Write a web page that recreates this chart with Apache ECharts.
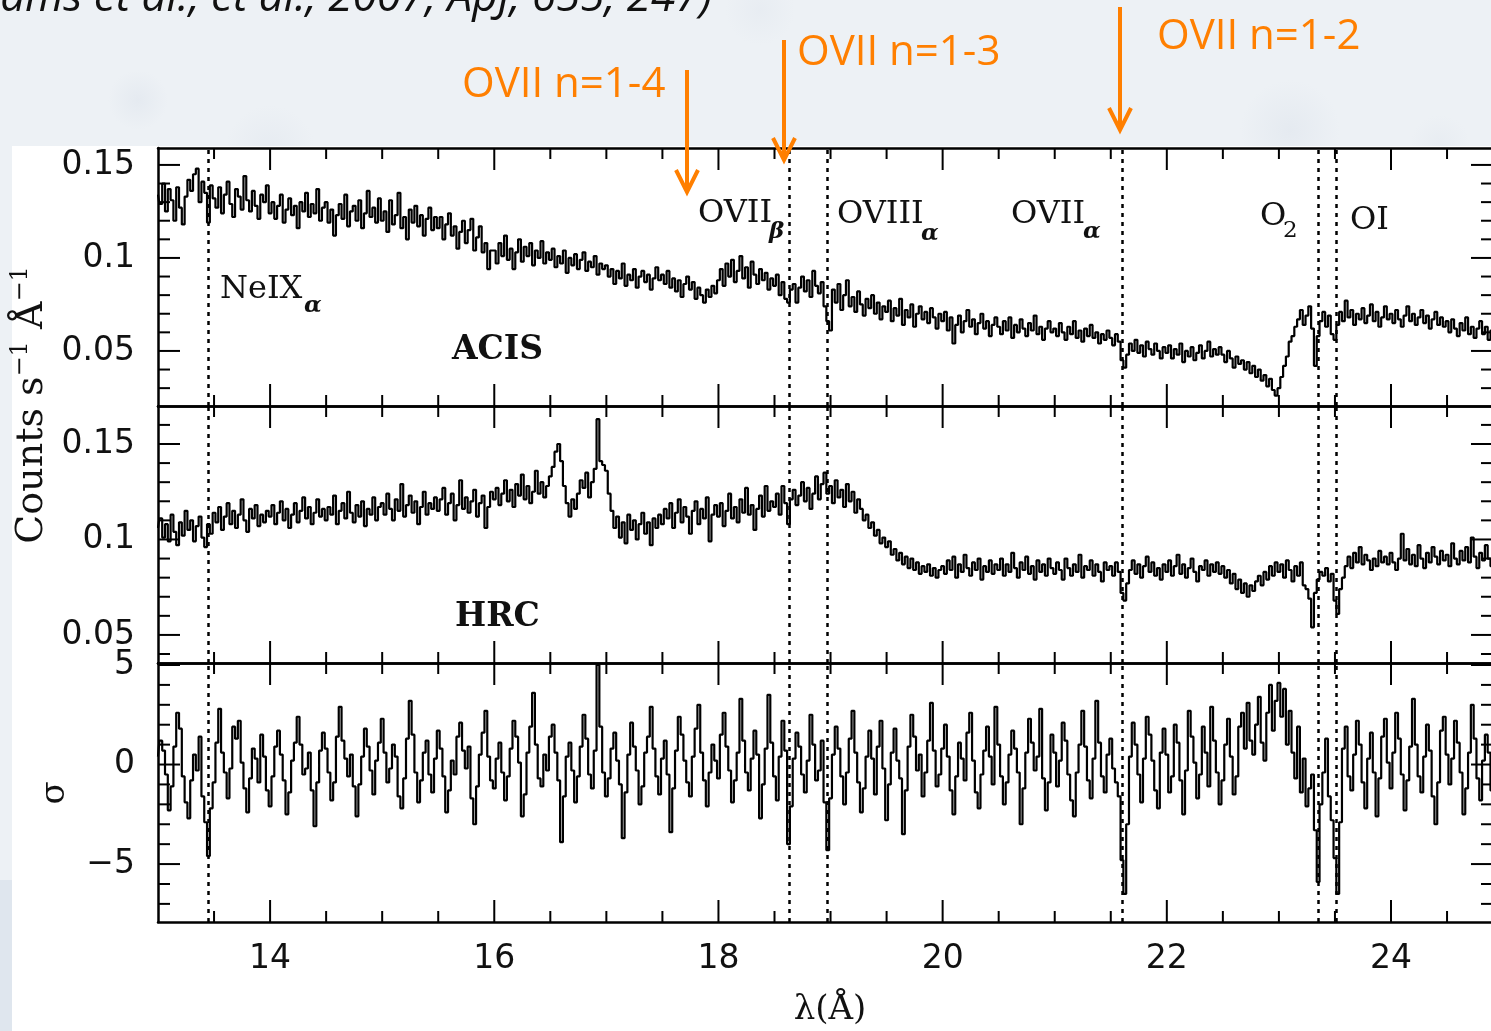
<!DOCTYPE html>
<html>
<head>
<meta charset="utf-8">
<script src="https://cdn.jsdelivr.net/npm/echarts@6/dist/echarts.min.js"></script>
<style>
html, body { margin: 0; padding: 0; background: #edf1f5; }
#chart { width: 1491px; height: 1031px; }
</style>
</head>
<body>
<div id="chart"></div>
<script>
// wavelength grid of the spectra (Angstrom)
var lambdaStart = 13.0;
var binWidth = 0.025;

// ACIS count rate, counts s-1 A-1, one value per bin
var acis = [
  0.134,0.129,0.140,0.125,0.137,0.131,0.120,0.138,0.127,0.118,0.133,0.142,0.136,0.145,0.148,0.130,0.141,0.135,0.119,0.139,
  0.132,0.127,0.138,0.124,0.134,0.141,0.129,0.122,0.137,0.133,0.126,0.144,0.131,0.125,0.136,0.128,0.121,0.134,0.130,0.139,
  0.124,0.130,0.121,0.128,0.134,0.119,0.126,0.132,0.123,0.128,0.116,0.130,0.125,0.135,0.122,0.129,0.124,0.137,0.120,0.127,
  0.130,0.119,0.126,0.112,0.123,0.129,0.121,0.134,0.117,0.125,0.128,0.120,0.131,0.116,0.124,0.136,0.122,0.127,0.119,0.132,
  0.120,0.125,0.114,0.131,0.118,0.123,0.135,0.116,0.122,0.110,0.126,0.119,0.128,0.117,0.123,0.112,0.121,0.127,0.115,0.122,
  0.116,0.122,0.110,0.118,0.124,0.112,0.117,0.105,0.114,0.120,0.108,0.115,0.121,0.104,0.111,0.117,0.103,0.108,0.094,0.104,
  0.104,0.097,0.108,0.101,0.112,0.099,0.105,0.094,0.103,0.110,0.098,0.106,0.101,0.108,0.096,0.104,0.100,0.109,0.097,0.103,
  0.099,0.105,0.095,0.101,0.097,0.104,0.092,0.100,0.096,0.102,0.094,0.099,0.103,0.093,0.098,0.095,0.101,0.091,0.097,0.094,
  0.096,0.090,0.094,0.086,0.093,0.089,0.097,0.085,0.091,0.088,0.094,0.084,0.090,0.093,0.087,0.091,0.083,0.089,0.095,0.088,
  0.091,0.086,0.093,0.084,0.089,0.082,0.088,0.079,0.086,0.090,0.083,0.087,0.078,0.084,0.080,0.076,0.083,0.079,0.085,0.081,
  0.088,0.094,0.085,0.097,0.090,0.099,0.087,0.093,0.101,0.089,0.095,0.084,0.098,0.091,0.086,0.094,0.088,0.092,0.083,0.089,
  0.085,0.091,0.080,0.087,0.078,0.076,0.083,0.086,0.076,0.084,0.090,0.082,0.088,0.079,0.093,0.085,0.081,0.087,0.074,0.066,
  0.061,0.083,0.076,0.086,0.072,0.080,0.088,0.074,0.079,0.071,0.082,0.075,0.069,0.078,0.073,0.080,0.070,0.076,0.067,0.074,
  0.071,0.077,0.066,0.073,0.069,0.078,0.064,0.072,0.068,0.075,0.063,0.070,0.074,0.067,0.071,0.065,0.073,0.068,0.062,0.070,
  0.066,0.071,0.061,0.068,0.054,0.064,0.069,0.060,0.066,0.072,0.063,0.067,0.059,0.065,0.070,0.062,0.066,0.058,0.064,0.068,
  0.063,0.059,0.066,0.061,0.068,0.057,0.064,0.060,0.067,0.062,0.058,0.065,0.061,0.069,0.059,0.063,0.056,0.062,0.066,0.060,
  0.062,0.058,0.065,0.060,0.056,0.063,0.059,0.066,0.057,0.061,0.055,0.062,0.058,0.064,0.057,0.060,0.054,0.059,0.056,0.061,
  0.057,0.053,0.059,0.055,0.045,0.041,0.048,0.054,0.050,0.056,0.049,0.053,0.047,0.055,0.051,0.048,0.054,0.050,0.046,0.052,
  0.049,0.053,0.046,0.051,0.048,0.054,0.044,0.050,0.047,0.052,0.045,0.049,0.053,0.046,0.050,0.055,0.047,0.051,0.048,0.052,
  0.048,0.044,0.050,0.046,0.041,0.047,0.043,0.045,0.040,0.044,0.038,0.042,0.036,0.040,0.034,0.037,0.031,0.035,0.029,0.026,
  0.030,0.036,0.042,0.047,0.055,0.058,0.063,0.067,0.072,0.064,0.069,0.074,0.062,0.042,0.058,0.066,0.071,0.063,0.069,0.059,
  0.056,0.064,0.071,0.066,0.077,0.068,0.072,0.064,0.070,0.067,0.073,0.065,0.069,0.075,0.066,0.071,0.063,0.068,0.074,0.067,
  0.070,0.065,0.072,0.067,0.063,0.069,0.074,0.066,0.070,0.064,0.068,0.072,0.065,0.069,0.062,0.067,0.071,0.064,0.068,0.063,
  0.066,0.060,0.067,0.062,0.058,0.065,0.061,0.068,0.059,0.063,0.057,0.062,0.066,0.059,0.063,0.056,0.061,0.058,0.062,0.057
];

// HRC count rate, counts s-1 A-1
var hrc = [
  0.106,0.111,0.101,0.108,0.099,0.113,0.104,0.097,0.109,0.102,0.115,0.105,0.110,0.099,0.107,0.112,0.101,0.096,0.108,0.103,
  0.114,0.109,0.117,0.105,0.112,0.119,0.108,0.115,0.106,0.113,0.121,0.110,0.104,0.116,0.111,0.118,0.107,0.113,0.109,0.115,
  0.112,0.118,0.108,0.114,0.120,0.110,0.116,0.106,0.113,0.119,0.109,0.115,0.122,0.111,0.117,0.108,0.114,0.121,0.112,0.116,
  0.110,0.117,0.113,0.123,0.108,0.115,0.119,0.111,0.125,0.114,0.109,0.118,0.112,0.120,0.107,0.116,0.113,0.122,0.110,0.117,
  0.119,0.113,0.124,0.116,0.110,0.121,0.115,0.129,0.112,0.118,0.123,0.114,0.120,0.108,0.117,0.125,0.113,0.119,0.116,0.122,
  0.115,0.121,0.127,0.113,0.119,0.124,0.110,0.118,0.131,0.116,0.122,0.114,0.120,0.126,0.112,0.119,0.123,0.106,0.117,0.125,
  0.121,0.127,0.118,0.124,0.131,0.120,0.126,0.117,0.129,0.123,0.134,0.121,0.128,0.119,0.125,0.136,0.124,0.130,0.122,0.128,
  0.133,0.138,0.146,0.150,0.141,0.128,0.119,0.112,0.121,0.116,0.124,0.131,0.127,0.135,0.122,0.130,0.137,0.163,0.141,0.139,
  0.136,0.124,0.115,0.106,0.112,0.101,0.109,0.098,0.113,0.105,0.110,0.100,0.108,0.114,0.103,0.109,0.097,0.111,0.106,0.113,
  0.108,0.116,0.111,0.119,0.106,0.114,0.121,0.109,0.117,0.112,0.103,0.115,0.120,0.108,0.116,0.111,0.122,0.099,0.113,0.118,
  0.112,0.119,0.107,0.115,0.124,0.111,0.117,0.109,0.121,0.114,0.127,0.113,0.118,0.105,0.116,0.123,0.112,0.128,0.115,0.120,
  0.117,0.124,0.113,0.128,0.119,0.108,0.121,0.126,0.118,0.123,0.130,0.120,0.127,0.116,0.124,0.133,0.121,0.129,0.135,0.124,
  0.128,0.119,0.131,0.122,0.126,0.117,0.129,0.120,0.125,0.114,0.121,0.116,0.110,0.113,0.106,0.109,0.102,0.105,0.098,0.101,
  0.096,0.099,0.092,0.095,0.089,0.093,0.087,0.091,0.085,0.090,0.084,0.088,0.082,0.086,0.083,0.087,0.081,0.085,0.080,0.084,
  0.086,0.082,0.089,0.084,0.091,0.080,0.087,0.083,0.092,0.085,0.081,0.088,0.084,0.090,0.079,0.086,0.083,0.089,0.082,0.087,
  0.084,0.090,0.081,0.087,0.083,0.093,0.085,0.080,0.088,0.084,0.091,0.082,0.086,0.079,0.089,0.083,0.087,0.081,0.090,0.085,
  0.082,0.088,0.084,0.079,0.090,0.085,0.081,0.087,0.083,0.092,0.080,0.086,0.084,0.089,0.081,0.087,0.083,0.078,0.088,0.084,
  0.086,0.081,0.088,0.083,0.072,0.068,0.077,0.084,0.089,0.082,0.087,0.080,0.086,0.091,0.083,0.088,0.081,0.085,0.079,0.087,
  0.083,0.089,0.081,0.086,0.092,0.082,0.087,0.080,0.085,0.090,0.083,0.078,0.086,0.084,0.089,0.081,0.087,0.083,0.088,0.082,
  0.086,0.080,0.084,0.077,0.082,0.074,0.079,0.072,0.077,0.070,0.076,0.073,0.078,0.081,0.076,0.083,0.079,0.086,0.081,0.088,
  0.083,0.087,0.080,0.089,0.084,0.078,0.086,0.081,0.088,0.076,0.074,0.069,0.054,0.072,0.079,0.083,0.081,0.085,0.078,0.082,
  0.068,0.061,0.074,0.080,0.086,0.091,0.085,0.093,0.088,0.096,0.087,0.092,0.089,0.084,0.090,0.086,0.094,0.088,0.091,0.087,
  0.093,0.088,0.084,0.090,0.103,0.089,0.095,0.087,0.092,0.086,0.097,0.090,0.085,0.093,0.088,0.096,0.091,0.087,0.094,0.089,
  0.092,0.086,0.098,0.090,0.087,0.094,0.089,0.096,0.088,0.101,0.091,0.085,0.093,0.089,0.097,0.090,0.086,0.094,0.088,0.092
];

// residuals in sigma
var sigma = [
  0.4,1.2,0.7,-0.5,-2.3,-1.1,0.9,2.6,1.8,-0.6,-1.9,-2.7,-0.8,0.5,-0.3,1.4,-1.6,-2.9,-4.6,-2.2,
  -0.9,1.1,2.8,0.6,-0.4,-1.7,-0.2,1.9,1.3,2.2,0.1,-1.2,-2.4,-0.7,0.8,0.3,-0.9,1.5,0.4,-1.3,
  -2.1,-0.6,0.9,1.7,0.5,-0.8,-2.5,-1.4,0.2,1.1,2.4,1.0,-0.5,-0.2,0.6,-1.3,-3.1,-0.9,0.7,1.6,
  0.8,-0.4,-1.8,-0.9,1.4,2.9,1.2,0.3,-0.6,0.5,-1.1,-2.6,-1.0,0.4,1.8,0.9,-0.3,-1.5,0.2,1.1,
  2.3,0.6,-0.9,-0.2,1.0,0.4,-1.6,-2.2,-0.7,1.3,3.2,1.5,-0.4,-1.9,-0.8,0.6,1.2,-0.5,-1.4,0.3,
  1.7,0.8,-0.6,-2.4,-1.3,0.2,-0.5,1.4,2.1,0.7,-0.2,0.9,-1.7,-3.0,-1.1,0.5,1.6,2.7,0.4,-0.8,
  -1.2,0.3,1.1,-0.4,-1.8,-0.6,0.8,2.2,1.4,0.1,-2.6,-1.5,0.6,1.9,3.6,1.0,-0.7,-1.1,0.5,-0.3,
  1.4,2.0,0.6,-0.8,-3.9,-1.6,0.4,1.1,-0.3,-1.9,-0.6,0.9,2.5,1.3,-0.5,-1.2,0.7,5.0,1.9,-0.4,
  -1.6,-0.7,0.8,1.6,0.2,-1.0,-3.7,-1.4,0.5,2.1,0.9,-0.3,-2.0,-1.1,0.6,1.4,2.9,0.8,-0.6,-1.5,
  0.3,1.2,-0.5,-3.4,-1.2,0.7,2.4,1.5,0.2,-0.9,-1.6,0.4,1.8,3.0,0.6,-0.8,-2.1,-0.4,1.0,0.2,
  -0.7,1.5,2.6,0.9,-0.3,-1.9,-0.8,0.6,3.3,1.2,-0.4,-1.3,0.3,1.7,0.5,-2.7,-1.0,0.8,3.5,1.1,
  -0.6,-1.8,0.4,2.2,0.7,-4.0,-2.1,0.3,1.6,0.9,-0.5,-1.4,0.2,2.5,1.0,-0.8,-0.3,1.2,-1.9,-4.3,
  -1.7,0.5,1.9,0.8,-0.6,-2.0,-0.4,1.3,2.7,0.6,-0.9,-2.4,-1.2,0.4,1.7,0.3,-1.5,0.9,2.2,-0.2,
  -2.8,-1.0,0.6,1.8,0.2,-0.7,-3.5,-1.3,0.9,2.5,1.4,-0.3,0.5,-1.6,-0.4,1.2,3.1,0.7,-1.1,-0.5,
  0.8,2.0,0.4,-1.3,-2.5,-0.6,1.1,0.3,-0.8,1.6,2.6,0.2,-1.4,-2.2,-0.5,0.7,1.9,0.4,-1.0,2.9,
  1.0,-0.6,-2.0,-0.9,0.5,1.7,0.8,-0.4,-3.0,-1.2,0.6,2.3,1.1,-0.3,0.4,2.8,-0.7,-2.3,-0.9,1.5,
  0.6,-1.1,0.2,2.1,1.2,-0.5,-1.8,-2.6,-0.4,1.0,2.7,0.9,-0.8,-1.7,0.3,3.2,1.1,-0.6,-1.4,0.5,
  1.3,-0.2,-0.9,-1.6,-4.8,-6.5,-3.0,0.4,2.1,1.0,-0.5,-1.9,0.3,2.4,1.5,0.2,-1.3,-2.2,0.6,1.8,
  0.5,-1.4,-0.6,2.0,1.1,-0.8,-2.5,-0.3,2.7,1.4,0.1,-1.7,-0.5,1.9,0.6,-1.1,2.9,1.2,-0.4,-2.0,
  -0.8,1.0,2.3,0.4,-1.5,-0.6,1.9,2.6,0.8,3.1,1.2,0.5,2.0,3.4,1.1,0.2,2.6,4.0,1.7,3.2,
  4.1,2.4,3.8,1.0,2.7,0.6,-0.7,1.9,-1.4,0.3,-2.1,-1.2,-0.5,-3.3,-5.9,-2.0,-0.4,1.3,-1.6,-2.8,
  -4.7,-6.5,-2.9,0.8,1.9,-0.6,-1.3,0.5,2.2,1.0,-0.9,-2.2,0.3,1.6,-0.4,-2.6,-0.7,1.4,2.3,0.1,
  -1.2,0.6,2.6,1.3,-0.5,-2.3,-0.8,0.9,3.3,1.0,-0.6,-1.4,0.4,2.0,0.7,-1.6,-3.0,-0.9,1.7,2.4,
  0.5,-1.0,0.3,2.2,1.1,-0.4,-2.5,-1.2,0.6,3.0,1.3,-0.7,-1.8,0.2,1.5,0.6,-1.3,-0.5,1.8,0.9
];

// rest wavelengths of the marked lines: NeIX, OVIIb, OVIIIa, OVIIa, O2, OI
var lineCenters = [13.447, 18.627, 18.967, 21.602, 23.35, 23.51];

// ticks
var xMajorTicks = [14, 16, 18, 20, 22, 24];
var xMinorTicks = [13.5, 14.5, 15, 15.5, 16.5, 17, 17.5, 18.5, 19, 19.5, 20.5, 21, 21.5, 22.5, 23, 23.5, 24.5];
var countMajorTicks = [0.05, 0.1, 0.15];
var acisMinorTicks = [0.03, 0.04, 0.06, 0.07, 0.08, 0.09, 0.11, 0.12, 0.13, 0.14];
var hrcMinorTicks = [0.04, 0.06, 0.07, 0.08, 0.09, 0.11, 0.12, 0.13, 0.14, 0.16];
var sigmaMajorTicks = [-5, 0, 5];
var sigmaMinorTicks = [-7, -6, -4, -3, -2, -1, 1, 2, 3, 4];

var xMin = 13, xMax = 24.91;
var SERIF = '"DejaVu Serif", serif';
var SANS = '"DejaVu Sans", sans-serif';
var ORANGE = '#ff7f00';

var panels = [
  { top: 148, height: 258, min: 0.0204, max: 0.1591, major: countMajorTicks, minor: acisMinorTicks, values: acis },
  { top: 406, height: 257, min: 0.0353, max: 0.1699, major: countMajorTicks, minor: hrcMinorTicks, values: hrc },
  { top: 663, height: 259, min: -7.91, max: 5.1, major: sigmaMajorTicks, minor: sigmaMinorTicks, values: sigma }
];

function fmt(v) {
  return v < 0 ? '\u2212' + (-v) : String(v);
}

function axis(g, pos, min, max, labels) {
  var horizontal = pos === 'top' || pos === 'bottom';
  return {
    type: 'value', gridIndex: g, position: pos, min: min, max: max,
    splitLine: { show: false },
    axisLine: { show: true, onZero: false, lineStyle: { color: '#000', width: 2.5 } },
    axisTick: { show: false },
    axisLabel: labels ? {
      show: true, customValues: labels, margin: horizontal ? 21 : 23,
      fontFamily: SANS, fontSize: 33, color: '#111', formatter: fmt
    } : { show: false }
  };
}

function tickLine(x1, y1, x2, y2) {
  return { type: 'line', shape: { x1: x1, y1: y1, x2: x2, y2: y2 }, style: { stroke: '#000', lineWidth: 2 } };
}

// inward ticks on both opposite frame sides, placed through the axis scale
function tickSeries(xi, yi, items, vertical, yRef) {
  return {
    type: 'custom', xAxisIndex: xi, yAxisIndex: yi, silent: true, z: 5,
    data: items,
    renderItem: function (params, api) {
      var cs = params.coordSys;
      var len = api.value(1);
      if (vertical) {
        var px = api.coord([api.value(0), yRef])[0];
        return { type: 'group', children: [
          tickLine(px, cs.y + cs.height, px, cs.y + cs.height - len),
          tickLine(px, cs.y, px, cs.y + len)
        ] };
      }
      var py = api.coord([xMin, api.value(0)])[1];
      return { type: 'group', children: [
        tickLine(cs.x, py, cs.x + len, py),
        tickLine(cs.x + cs.width, py, cs.x + cs.width - len, py)
      ] };
    }
  };
}

function withLen(values, len) {
  return values.map(function (v) { return [v, len]; });
}

var grids = [], xAxes = [], yAxes = [], series = [];
panels.forEach(function (p, g) {
  grids.push({ left: 158, width: 1335, top: p.top, height: p.height, containLabel: false, outerBoundsMode: 'none' });
  var xi = xAxes.length, yi = yAxes.length;
  xAxes.push(axis(g, 'bottom', xMin, xMax, g === 2 ? xMajorTicks : null));
  xAxes.push(axis(g, 'top', xMin, xMax, null));
  yAxes.push(axis(g, 'left', p.min, p.max, p.major));
  yAxes.push(axis(g, 'right', p.min, p.max, null));
  series.push({
    type: 'line', xAxisIndex: xi, yAxisIndex: yi, step: 'middle',
    symbol: 'none', showSymbol: false, silent: true,
    lineStyle: { color: '#000', width: 2.2 },
    data: p.values.map(function (v, i) { return [lambdaStart + i * binWidth, v]; }),
    markLine: {
      silent: true, symbol: ['none', 'none'], label: { show: false },
      lineStyle: { color: '#000', width: 2.5, type: [4, 5] },
      data: lineCenters.map(function (c) { return { xAxis: c }; })
    }
  });
  series.push(tickSeries(xi, yi, withLen(xMajorTicks, 22).concat(withLen(xMinorTicks, 11)), true, p.min));
  series.push(tickSeries(xi, yi, withLen(p.major, 22).concat(withLen(p.minor, 12)), false, 0));
});

function blob(cx, cy, rx, ry, alpha) {
  return {
    type: 'ellipse', z: -98, silent: true, shape: { cx: cx, cy: cy, rx: rx, ry: ry },
    style: { fill: new echarts.graphic.RadialGradient(0.5, 0.5, 0.5, [
      { offset: 0, color: 'rgba(210,218,230,' + alpha + ')' },
      { offset: 1, color: 'rgba(210,218,230,0)' }
    ]) }
  };
}

function txt(x, y, text, size, opts) {
  opts = opts || {};
  return {
    type: 'text', x: x, y: y, z: 50, silent: true, rotation: opts.rotation || 0,
    style: {
      text: text, fontSize: size, fontFamily: opts.family || SERIF,
      fontWeight: opts.weight || 'normal', fontStyle: opts.style || 'normal',
      fill: opts.color || '#111', align: opts.align || 'left', verticalAlign: opts.valign || 'middle',
      rich: opts.rich
    }
  };
}

function arrow(x, y1, tip) {
  return [
    { type: 'line', z: 60, silent: true, shape: { x1: x, y1: y1, x2: x, y2: tip - 2 },
      style: { stroke: ORANGE, lineWidth: 4 } },
    { type: 'polyline', z: 60, silent: true, shape: { points: [[x - 11, tip - 22], [x, tip], [x + 11, tip - 22]] },
      style: { stroke: ORANGE, lineWidth: 4, fill: null, lineJoin: 'miter' } }
  ];
}

var graphics = [
  { type: 'rect', z: -100, silent: true, shape: { x: 0, y: 0, width: 1491, height: 1031 }, style: { fill: '#edf1f5' } },
  blob(138, 100, 30, 80, 0.3),
  blob(270, 150, 120, 45, 0.25),
  blob(1290, 130, 50, 65, 0.3),
  blob(760, 10, 380, 35, 0.2),
  blob(1440, 145, 90, 30, 0.2),
  { type: 'rect', z: -97, silent: true, shape: { x: 0, y: 880, width: 12, height: 151 }, style: { fill: '#dfe6ee' } },
  { type: 'rect', z: -90, silent: true, shape: { x: 12, y: 146, width: 1479, height: 885 }, style: { fill: '#ffffff' } },

  txt(712, 20, '(Williams et al., et al., 2007, ApJ, 655, 247)', 44,
    { family: '"Open Sans", sans-serif', style: 'italic', align: 'right', valign: 'bottom' }),

  txt(462, 85, 'OVII n=1-4', 42, { family: '"Open Sans", sans-serif', color: ORANGE }),
  txt(797, 53, 'OVII n=1-3', 42, { family: '"Open Sans", sans-serif', color: ORANGE }),
  txt(1157, 37, 'OVII n=1-2', 42, { family: '"Open Sans", sans-serif', color: ORANGE }),

  txt(220, 290, 'NeIX', 32), txt(304, 306, '\u03b1', 23, { style: 'italic', weight: 'bold' }),
  txt(698, 214, 'OVII', 32), txt(769, 232, '\u03b2', 23, { style: 'italic', weight: 'bold' }),
  txt(837, 215, 'OVIII', 32), txt(921, 234, '\u03b1', 23, { style: 'italic', weight: 'bold' }),
  txt(1011, 215, 'OVII', 32), txt(1083, 232, '\u03b1', 23, { style: 'italic', weight: 'bold' }),
  txt(1260, 217, 'O', 32), txt(1283, 231, '2', 23),
  txt(1350, 221, 'OI', 32),
  txt(452, 350, 'ACIS', 33, { weight: 'bold' }),
  txt(455, 617, 'HRC', 33, { weight: 'bold' }),

  txt(32, 405, '{m|Counts s}{s|\u22121}{m| \u00c5}{s|\u22121}', 38, {
    rotation: Math.PI / 2, align: 'center',
    rich: {
      m: { fontSize: 38, fontFamily: SERIF, fill: '#111', lineHeight: 46 },
      s: { fontSize: 24, fontFamily: SERIF, fill: '#111', lineHeight: 24, verticalAlign: 'top' }
    }
  }),
  txt(55, 793, '\u03c3', 34, { rotation: Math.PI / 2, align: 'center' }),
  txt(830, 1010, '\u03bb(\u00c5)', 34, { align: 'center' })
];
graphics = graphics.concat(arrow(687, 70, 192), arrow(784, 40, 160), arrow(1120, 7, 130));

var myChart = echarts.init(document.getElementById('chart'));
myChart.setOption({
  animation: false,
  backgroundColor: 'transparent',
  textStyle: { fontFamily: SANS },
  grid: grids,
  xAxis: xAxes,
  yAxis: yAxes,
  series: series,
  graphic: { elements: graphics }
});
</script>
</body>
</html>
